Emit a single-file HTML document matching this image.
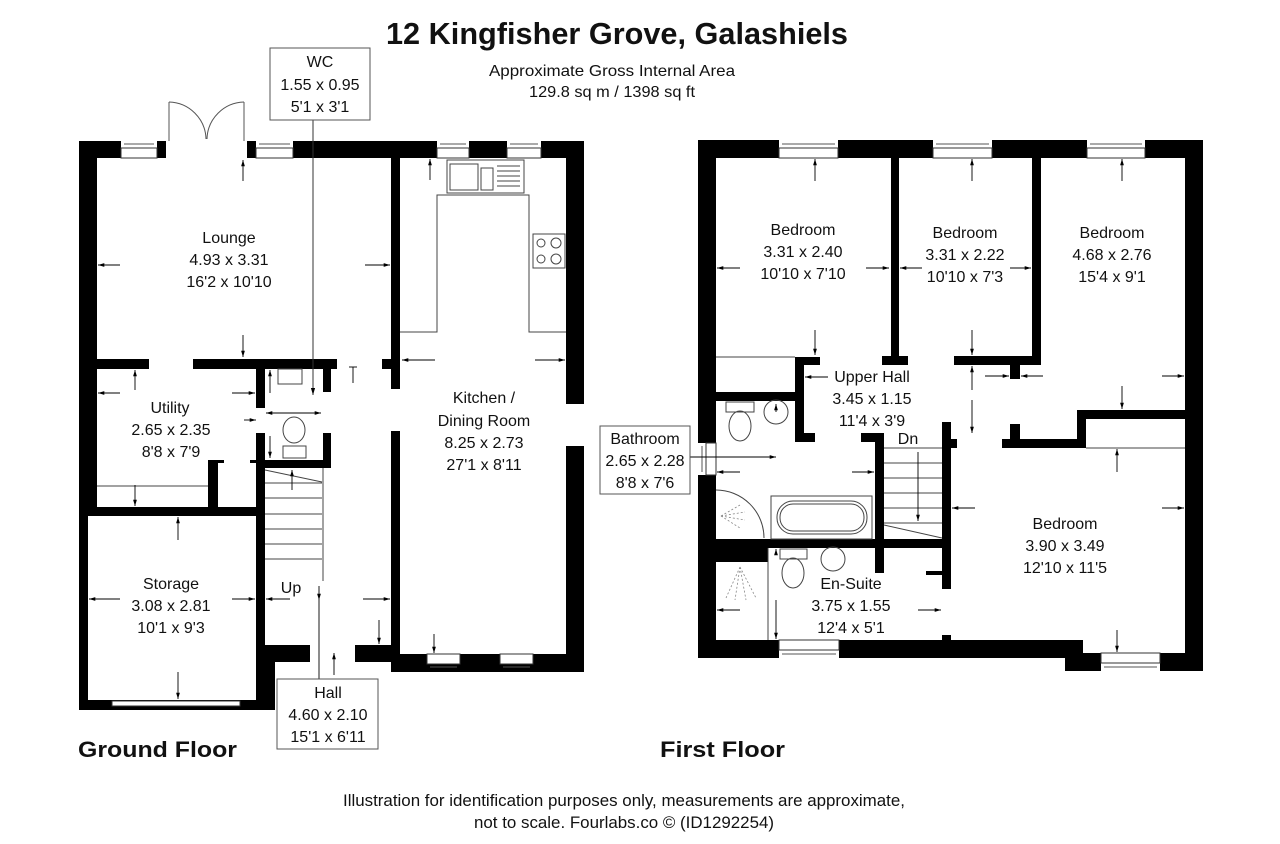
<!DOCTYPE html>
<html><head><meta charset="utf-8"><style>
html,body{margin:0;padding:0;background:#fff;}
svg{display:block;}
text{font-family:"Liberation Sans",Arial,sans-serif;fill:#111;}
</style></head><body>
<svg width="1280" height="844" viewBox="0 0 1280 844" xmlns="http://www.w3.org/2000/svg">
<defs>
<marker id="a" viewBox="0 0 10 10" refX="10" refY="5" markerWidth="7" markerHeight="7" orient="auto-start-reverse"><path d="M0,2 L10,5 L0,8 z" fill="#000"/></marker>
</defs>
<rect width="1280" height="844" fill="#fff"/>

<!-- Title -->
<text x="617" y="44" font-size="31" font-weight="bold" text-anchor="middle" textLength="462" lengthAdjust="spacingAndGlyphs">12 Kingfisher Grove, Galashiels</text>
<text x="612" y="76" font-size="16" text-anchor="middle" textLength="246" lengthAdjust="spacingAndGlyphs">Approximate Gross Internal Area</text>
<text x="612" y="97" font-size="16" text-anchor="middle" textLength="166" lengthAdjust="spacingAndGlyphs">129.8 sq m / 1398 sq ft</text>

<!-- ================= GROUND FLOOR ================= -->
<g fill="#000">
<rect x="79" y="141" width="42" height="17"/>
<rect x="157" y="141" width="9" height="17"/>
<rect x="247" y="141" width="9" height="17"/>
<rect x="293" y="141" width="144" height="17"/>
<rect x="469" y="141" width="38" height="17"/>
<rect x="541" y="141" width="43" height="17"/>
<rect x="79" y="141" width="18" height="374"/>
<rect x="79" y="507" width="9" height="203"/>
<rect x="97" y="359" width="52" height="10"/>
<rect x="193" y="359" width="144" height="10"/>
<rect x="256" y="369" width="9" height="39"/>
<rect x="323" y="369" width="8" height="23"/>
<rect x="256" y="433" width="9" height="28"/>
<rect x="323" y="433" width="8" height="28"/>
<rect x="256" y="460" width="75" height="8"/>
<rect x="79" y="507" width="186" height="9"/>
<rect x="208" y="460" width="10" height="47"/>
<rect x="208" y="460" width="16" height="3"/>
<rect x="250" y="460" width="6" height="3"/>
<rect x="256" y="468" width="9" height="240"/>
<rect x="265" y="645" width="45" height="17"/>
<rect x="265" y="659" width="10" height="50"/>
<rect x="79" y="700" width="196" height="10"/>
<rect x="355" y="645" width="45" height="17"/>
<rect x="391" y="158" width="9" height="231"/>
<rect x="382" y="359" width="18" height="10"/>
<rect x="391" y="431" width="9" height="241"/>
<rect x="566" y="141" width="18" height="263"/>
<rect x="566" y="446" width="18" height="226"/>
<rect x="391" y="654" width="193" height="18"/>
</g>
<g fill="#fff" stroke="#333" stroke-width="1">
<rect x="121" y="148" width="36" height="10"/>
<rect x="256" y="148" width="37" height="10"/>
<rect x="437" y="148" width="32" height="10"/>
<rect x="507" y="148" width="34" height="10"/>
<rect x="427" y="654" width="33" height="10"/>
<rect x="500" y="654" width="33" height="10"/>
<rect x="112" y="701" width="128" height="5"/>
</g>
<g stroke="#555" stroke-width="1">
<line x1="124" y1="144" x2="154" y2="144"/><line x1="259" y1="144" x2="290" y2="144"/>
<line x1="440" y1="144" x2="466" y2="144"/><line x1="510" y1="144" x2="538" y2="144"/>
<line x1="430" y1="667" x2="457" y2="667"/><line x1="503" y1="667" x2="530" y2="667"/>
</g>
<g fill="none" stroke="#555" stroke-width="1">
<line x1="169" y1="141" x2="169" y2="102"/>
<line x1="244" y1="141" x2="244" y2="102"/>
<path d="M169,102 A38,38 0 0 1 206,139"/>
<path d="M244,102 A38,38 0 0 0 207,139"/>
</g>
<g fill="none" stroke="#444" stroke-width="1">
<rect x="447" y="160" width="77" height="33"/>
<rect x="450" y="164" width="28" height="26"/>
<rect x="481" y="168" width="12" height="22"/>
<line x1="497" y1="166" x2="520" y2="166"/><line x1="497" y1="171" x2="520" y2="171"/><line x1="497" y1="176" x2="520" y2="176"/><line x1="497" y1="181" x2="520" y2="181"/><line x1="497" y1="186" x2="520" y2="186"/>
<polyline points="400,332 437,332 437,195 529,195 529,332 566,332"/>
<rect x="533" y="234" width="32" height="34"/>
<circle cx="541" cy="243" r="4"/><circle cx="556" cy="243" r="5"/><circle cx="541" cy="259" r="4"/><circle cx="556" cy="259" r="5"/>
<rect x="278" y="369" width="24" height="15"/>
<ellipse cx="294" cy="430" rx="11" ry="13"/>
<rect x="283" y="446" width="23" height="12"/>
<line x1="97" y1="486" x2="208" y2="486"/>
<line x1="323" y1="468" x2="323" y2="581" />
<line x1="265" y1="470" x2="322" y2="482"/>
<line x1="265" y1="483" x2="322" y2="483"/><line x1="265" y1="498" x2="322" y2="498"/><line x1="265" y1="514" x2="322" y2="514"/><line x1="265" y1="529" x2="322" y2="529"/><line x1="265" y1="544" x2="322" y2="544"/><line x1="265" y1="559" x2="322" y2="559"/>
</g>
<g stroke="#000" stroke-width="0.9" fill="none" marker-end="url(#a)">
<line x1="243" y1="181" x2="243" y2="160"/>
<line x1="120" y1="265" x2="98" y2="265"/>
<line x1="365" y1="265" x2="390" y2="265"/>
<line x1="243" y1="335" x2="243" y2="357"/>
<line x1="135" y1="390" x2="135" y2="370"/>
<line x1="120" y1="393" x2="98" y2="393"/>
<line x1="232" y1="393" x2="255" y2="393"/>
<line x1="135" y1="485" x2="135" y2="506"/>
<line x1="270" y1="393" x2="270" y2="370"/>
<line x1="244" y1="420" x2="256" y2="420"/>
<line x1="270" y1="436" x2="270" y2="458"/>
<line x1="178" y1="540" x2="178" y2="517"/>
<line x1="120" y1="599" x2="89" y2="599"/>
<line x1="232" y1="599" x2="255" y2="599"/>
<line x1="178" y1="672" x2="178" y2="699"/>
<line x1="290" y1="599" x2="266" y2="599"/>
<line x1="363" y1="599" x2="390" y2="599"/>
<line x1="379" y1="620" x2="379" y2="644"/>
<line x1="334" y1="675" x2="334" y2="653"/>
<line x1="292" y1="490" x2="292" y2="470"/>
<line x1="319" y1="586" x2="319" y2="600"/>
<line x1="435" y1="360" x2="402" y2="360"/>
<line x1="535" y1="360" x2="565" y2="360"/>
<line x1="434" y1="634" x2="434" y2="653"/>
<line x1="430" y1="180" x2="430" y2="159"/>
</g>
<g stroke="#000" stroke-width="0.9" fill="none">
<line x1="319" y1="600" x2="319" y2="680"/>
<line x1="353" y1="367" x2="353" y2="383"/>
<line x1="349" y1="367" x2="357" y2="367"/>
</g>
<g stroke="#000" stroke-width="0.9" marker-end="url(#a)" marker-start="url(#a)">
<line x1="266" y1="413" x2="321" y2="413"/>
</g>
<line x1="313" y1="118" x2="313" y2="395" stroke="#333" stroke-width="1" marker-end="url(#a)"/>

<g font-size="16" text-anchor="middle">
<rect x="270" y="48" width="100" height="72" fill="#fff" stroke="#555"/>
<text x="320" y="67">WC</text><text x="320" y="90">1.55 x 0.95</text><text x="320" y="112">5'1 x 3'1</text>
<text x="229" y="243">Lounge</text><text x="229" y="265">4.93 x 3.31</text><text x="229" y="287">16'2 x 10'10</text>
<text x="170" y="413">Utility</text><text x="171" y="435">2.65 x 2.35</text><text x="171" y="457">8'8 x 7'9</text>
<text x="171" y="589">Storage</text><text x="171" y="611">3.08 x 2.81</text><text x="171" y="633">10'1 x 9'3</text>
<text x="484" y="403">Kitchen /</text><text x="484" y="426">Dining Room</text><text x="484" y="448">8.25 x 2.73</text><text x="484" y="470">27'1 x 8'11</text>
<text x="291" y="593">Up</text>
<rect x="277" y="679" width="101" height="70" fill="#fff" stroke="#555"/>
<text x="328" y="698">Hall</text><text x="328" y="720">4.60 x 2.10</text><text x="328" y="742">15'1 x 6'11</text>
</g>
<text x="78" y="757" font-size="22" font-weight="bold" textLength="159" lengthAdjust="spacingAndGlyphs">Ground Floor</text>

<!-- ================= FIRST FLOOR ================= -->
<g fill="#000">
<rect x="698" y="140" width="81" height="18"/>
<rect x="838" y="140" width="95" height="18"/>
<rect x="992" y="140" width="95" height="18"/>
<rect x="1145" y="140" width="58" height="18"/>
<rect x="698" y="140" width="18" height="303"/>
<rect x="698" y="475" width="18" height="183"/>
<rect x="1185" y="140" width="18" height="531"/>
<rect x="891" y="158" width="8" height="206"/>
<rect x="882" y="356" width="26" height="9"/>
<rect x="1032" y="158" width="9" height="206"/>
<rect x="954" y="356" width="87" height="9"/>
<rect x="1010" y="364" width="10" height="15"/>
<rect x="795" y="357" width="25" height="8"/>
<rect x="795" y="357" width="9" height="85"/>
<rect x="795" y="433" width="20" height="9"/>
<rect x="716" y="392" width="88" height="9"/>
<rect x="861" y="433" width="23" height="9"/>
<rect x="875" y="433" width="9" height="140"/>
<rect x="942" y="422" width="9" height="167"/>
<rect x="951" y="439" width="6" height="9"/>
<rect x="716" y="539" width="235" height="9"/>
<rect x="716" y="548" width="52" height="14"/>
<rect x="926" y="571" width="16" height="4"/>
<rect x="942" y="635" width="9" height="8"/>
<rect x="1077" y="410" width="108" height="9"/>
<rect x="1077" y="410" width="9" height="38"/>
<rect x="1002" y="439" width="84" height="9"/>
<rect x="1010" y="424" width="10" height="15"/>
<rect x="698" y="640" width="81" height="18"/>
<rect x="839" y="640" width="244" height="18"/>
<rect x="1065" y="640" width="18" height="31"/>
<rect x="1065" y="653" width="36" height="18"/>
<rect x="1160" y="653" width="43" height="18"/>
</g>
<g fill="#fff" stroke="#333" stroke-width="1">
<rect x="779" y="148" width="59" height="10"/>
<rect x="933" y="148" width="59" height="10"/>
<rect x="1087" y="148" width="58" height="10"/>
<rect x="779" y="640" width="60" height="10"/>
<rect x="1101" y="653" width="59" height="10"/>
<rect x="706" y="443" width="10" height="32"/>
</g>
<g stroke="#555" stroke-width="1">
<line x1="782" y1="144" x2="835" y2="144"/><line x1="936" y1="144" x2="989" y2="144"/><line x1="1090" y1="144" x2="1142" y2="144"/>
<line x1="782" y1="654" x2="836" y2="654"/><line x1="1104" y1="667" x2="1157" y2="667"/>
<line x1="702" y1="446" x2="702" y2="472"/>
</g>
<g fill="none" stroke="#444" stroke-width="1">
<line x1="716" y1="357" x2="795" y2="357"/>
<line x1="1086" y1="448" x2="1185" y2="448"/>
<rect x="726" y="402" width="28" height="10"/>
<ellipse cx="740" cy="426" rx="11" ry="15"/>
<circle cx="776" cy="412" r="12"/>
<path d="M716,490 A48,48 0 0 1 764,538"/>
<rect x="771" y="496" width="101" height="43"/>
<rect x="777" y="501" width="90" height="33" rx="16"/>
<rect x="780" y="504" width="84" height="27" rx="13"/>
<line x1="768" y1="548" x2="768" y2="640"/>
<rect x="780" y="549" width="27" height="10"/>
<ellipse cx="793" cy="573" rx="11" ry="15"/>
<circle cx="833" cy="559" r="12"/>
<line x1="884" y1="448" x2="942" y2="448"/><line x1="884" y1="463" x2="942" y2="463"/><line x1="884" y1="478" x2="942" y2="478"/><line x1="884" y1="493" x2="942" y2="493"/><line x1="884" y1="508" x2="942" y2="508"/><line x1="884" y1="523" x2="942" y2="523"/>
<line x1="884" y1="525" x2="942" y2="538"/>
</g>
<g stroke="#888" stroke-width="0.8" stroke-dasharray="2,2" fill="none">
<line x1="721" y1="516" x2="740" y2="505"/><line x1="721" y1="516" x2="745" y2="512"/><line x1="721" y1="516" x2="745" y2="520"/><line x1="721" y1="516" x2="740" y2="528"/>
<line x1="740" y1="567" x2="726" y2="598"/><line x1="740" y1="567" x2="735" y2="600"/><line x1="740" y1="567" x2="746" y2="600"/><line x1="740" y1="567" x2="756" y2="598"/>
</g>
<g stroke="#000" stroke-width="0.9" fill="none" marker-end="url(#a)">
<line x1="815" y1="181" x2="815" y2="159"/>
<line x1="972" y1="181" x2="972" y2="159"/>
<line x1="1122" y1="181" x2="1122" y2="159"/>
<line x1="740" y1="268" x2="717" y2="268"/>
<line x1="866" y1="268" x2="889" y2="268"/>
<line x1="922" y1="268" x2="900" y2="268"/>
<line x1="1010" y1="268" x2="1031" y2="268"/>
<line x1="815" y1="330" x2="815" y2="355"/>
<line x1="972" y1="330" x2="972" y2="355"/>
<line x1="972" y1="390" x2="972" y2="366"/>
<line x1="972" y1="400" x2="972" y2="433"/>
<line x1="828" y1="377" x2="805" y2="377"/>
<line x1="985" y1="376" x2="1009" y2="376"/>
<line x1="1043" y1="376" x2="1021" y2="376"/>
<line x1="1162" y1="376" x2="1184" y2="376"/>
<line x1="1122" y1="386" x2="1122" y2="409"/>
<line x1="1117" y1="472" x2="1117" y2="449"/>
<line x1="975" y1="508" x2="952" y2="508"/>
<line x1="1162" y1="508" x2="1184" y2="508"/>
<line x1="1117" y1="630" x2="1117" y2="652"/>
<line x1="740" y1="472" x2="717" y2="472"/>
<line x1="852" y1="472" x2="874" y2="472"/>
<line x1="918" y1="452" x2="918" y2="521"/>
<line x1="740" y1="610" x2="717" y2="610"/>
<line x1="918" y1="610" x2="941" y2="610"/>
<line x1="776" y1="600" x2="776" y2="639"/>
<line x1="776" y1="540" x2="776" y2="548"/>
<line x1="776" y1="553" x2="776" y2="549"/>
<line x1="776" y1="412" x2="776" y2="404"/>
<line x1="690" y1="457" x2="776" y2="457"/>
</g>
<g font-size="16" text-anchor="middle">
<text x="803" y="235">Bedroom</text><text x="803" y="257">3.31 x 2.40</text><text x="803" y="279">10'10 x 7'10</text>
<text x="965" y="238">Bedroom</text><text x="965" y="260">3.31 x 2.22</text><text x="965" y="282">10'10 x 7'3</text>
<text x="1112" y="238">Bedroom</text><text x="1112" y="260">4.68 x 2.76</text><text x="1112" y="282">15'4 x 9'1</text>
<text x="872" y="382">Upper Hall</text><text x="872" y="404">3.45 x 1.15</text><text x="872" y="426">11'4 x 3'9</text>
<text x="908" y="444">Dn</text>
<text x="1065" y="529">Bedroom</text><text x="1065" y="551">3.90 x 3.49</text><text x="1065" y="573">12'10 x 11'5</text>
<text x="851" y="589">En-Suite</text><text x="851" y="611">3.75 x 1.55</text><text x="851" y="633">12'4 x 5'1</text>
<rect x="600" y="426" width="90" height="68" fill="#fff" stroke="#555"/>
<text x="645" y="444">Bathroom</text><text x="645" y="466">2.65 x 2.28</text><text x="645" y="488">8'8 x 7'6</text>
</g>
<text x="660" y="757" font-size="22" font-weight="bold" textLength="125" lengthAdjust="spacingAndGlyphs">First Floor</text>

<g font-size="17" text-anchor="middle">
<text x="624" y="806" textLength="562" lengthAdjust="spacingAndGlyphs">Illustration for identification purposes only, measurements are approximate,</text>
<text x="624" y="828" textLength="300" lengthAdjust="spacingAndGlyphs">not to scale. Fourlabs.co © (ID1292254)</text>
</g>
</svg>
</body></html>
